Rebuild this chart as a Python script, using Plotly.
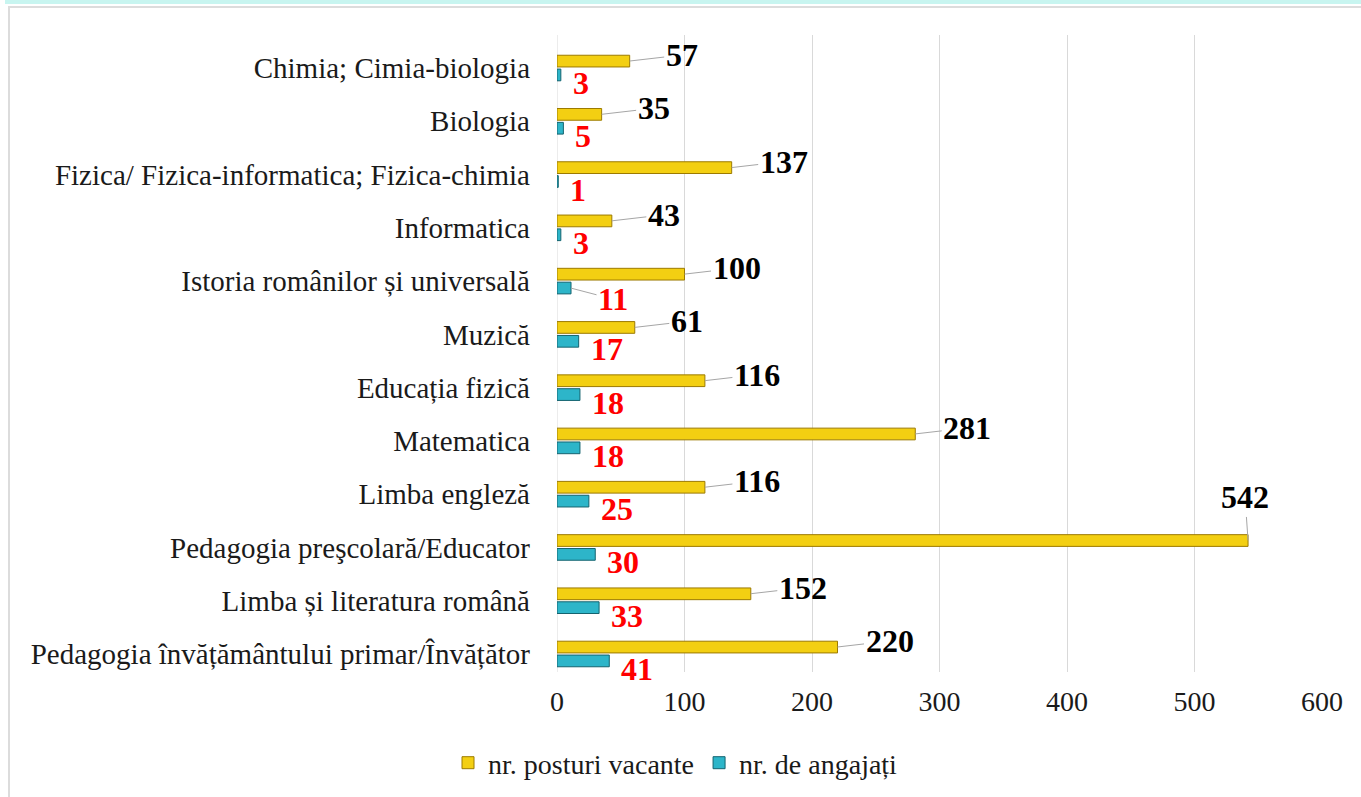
import plotly.graph_objects as go

categories = [
    "Pedagogia învățământului primar/Învățător",
    "Limba și literatura română",
    "Pedagogia preşcolară/Educator",
    "Limba engleză",
    "Matematica",
    "Educația fizică",
    "Muzică",
    "Istoria românilor și universală",
    "Informatica",
    "Fizica/ Fizica-informatica; Fizica-chimia",
    "Biologia",
    "Chimia; Cimia-biologia",
]
posturi_vacante = [220, 152, 542, 116, 281, 116, 61, 100, 43, 137, 35, 57]
angajati = [41, 33, 30, 25, 18, 18, 17, 11, 3, 1, 5, 3]
x_ticks = [0, 100, 200, 300, 400, 500, 600]

SERIF = "Liberation Serif, Times New Roman, serif"
YEL = "#F3CF12"
YEL_EDGE = "#9C7A00"
TEAL = "#2DB5C9"
TEAL_EDGE = "#14636F"

fig = go.Figure()
fig.add_trace(go.Bar(
    y=categories, x=posturi_vacante, orientation="h", name="nr. posturi vacante",
    width=0.22, offset=0.02,
    marker=dict(color=YEL, line=dict(color=YEL_EDGE, width=1)),
))
fig.add_trace(go.Bar(
    y=categories, x=angajati, orientation="h", name="nr. de angajați",
    width=0.22, offset=-0.24,
    marker=dict(color=TEAL, line=dict(color=TEAL_EDGE, width=1)),
))

ann = []
for cat, v in zip(categories, posturi_vacante):
    big = v == max(posturi_vacante)
    ann.append(dict(
        x=v, y=cat, xref="x", yref="y", yshift=7,
        text=f"<b>{v}</b>", showarrow=True, arrowhead=0, arrowwidth=1,
        arrowcolor="#A6A6A6", ax=-3 if big else 52, ay=-43 if big else -6,
        font=dict(family=SERIF, size=32, color="black"),
    ))
for cat, v in zip(categories, angajati):
    if cat.startswith("Istoria"):
        ann.append(dict(
            x=v, y=cat, xref="x", yref="y", yshift=-7,
            text=f"<b>{v}</b>", showarrow=True, arrowhead=0, arrowwidth=1,
            arrowcolor="#A6A6A6", ax=42, ay=11,
            font=dict(family=SERIF, size=32, color="red"),
        ))
    else:
        ann.append(dict(
            x=v, y=cat, xref="x", yref="y", yshift=-15, xshift=10,
            xanchor="left", yanchor="middle",
            text=f"<b>{v}</b>", showarrow=False,
            font=dict(family=SERIF, size=32, color="red"),
        ))

W, H = 1361, 797
pl, pr, pt, pb = 557, 39, 35, 125
pw, ph = W - pl - pr, H - pt - pb

def px(x):
    return (x - pl) / pw

def py(y):
    return (H - pb - y) / ph

fig.update_layout(
    width=W, height=H,
    paper_bgcolor="white", plot_bgcolor="white",
    margin=dict(l=pl, r=pr, t=pt, b=pb),
    barmode="overlay",
    showlegend=True,
    legend=dict(orientation="h", x=px(448), y=1 - 763 / H, xanchor="left", yanchor="middle",
                xref="paper", yref="container",
                font=dict(family=SERIF, size=28, color="#1a1a1a"),
                itemwidth=30, traceorder="normal"),
    annotations=ann,
    shapes=[
        dict(type="rect", xref="paper", yref="paper", x0=px(5), x1=px(1361), y0=py(0), y1=py(4),
             fillcolor="#C8F5F0", line=dict(width=0), layer="below"),
        dict(type="rect", xref="paper", yref="paper", x0=px(9), x1=px(1375), y0=py(7), y1=py(810),
             fillcolor="rgba(0,0,0,0)", line=dict(color="#DCDCDC", width=2), layer="below"),
        dict(type="line", xref="x", yref="paper", x0=0, x1=0, y0=0, y1=1,
             line=dict(color="#D9D9D9", width=1), layer="below"),
    ],
)
fig.update_xaxes(
    range=[0, 600], tickvals=x_ticks, showgrid=True, gridcolor="#D9D9D9", gridwidth=1,
    zeroline=False, showline=False, ticks="",
    tickfont=dict(family=SERIF, size=28, color="#1a1a1a"), ticklabelstandoff=10,
)
fig.update_yaxes(
    type="category", range=[-0.338, 11.62], showgrid=False, zeroline=False,
    showline=False, ticks="", ticklabelstandoff=26,
    tickfont=dict(family=SERIF, size=29, color="#1a1a1a"),
)
fig.write_html(
    "out.html",
    config={"displayModeBar": False},
    post_script="document.body.style.margin='0px';document.body.style.overflow='hidden';",
)
